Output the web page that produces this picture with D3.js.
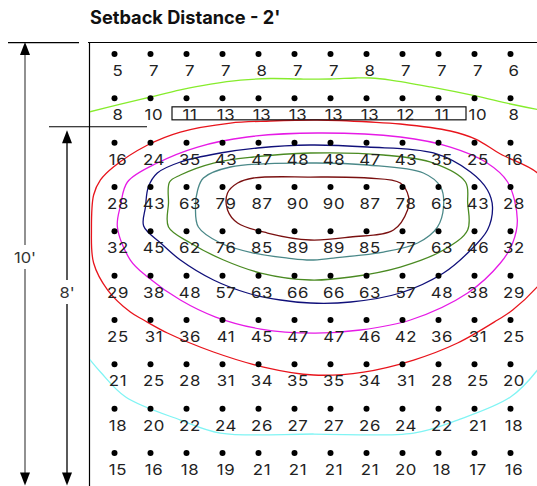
<!DOCTYPE html>
<html><head><meta charset="utf-8">
<script src="https://cdn.jsdelivr.net/npm/d3@7"></script>
<style>body{margin:0;background:#fff}svg{display:block}</style>
</head><body><svg id="c" width="537" height="486"></svg>
<script>
// ---------- data ----------
const title = "Setback Distance - 2'";
const colIndex = [0,1,2,3,4,5,6,7,8,9,10,11];
const row0 = [5,7,7,7,8,7,7,8,7,7,7,6];
const row1 = [8,10,11,13,13,13,13,13,12,11,10,8];
const row2 = [16,24,35,43,47,48,48,47,43,35,25,16];
const row3 = [28,43,63,79,87,90,90,87,78,63,43,28];
const row4 = [32,45,62,76,85,89,89,85,77,63,46,32];
const row5 = [29,38,48,57,63,66,66,63,57,48,38,29];
const row6 = [25,31,36,41,45,47,47,46,42,36,31,25];
const row7 = [21,25,28,31,34,35,35,34,31,28,25,20];
const row8 = [18,20,22,24,26,27,27,26,24,22,21,18];
const row9 = [15,16,18,19,21,21,21,21,20,18,17,16];
const grid = [row0,row1,row2,row3,row4,row5,row6,row7,row8,row9];
const boxRow = 1, boxCols = [2, 9];
// dimension annotations (in row units of the grid)
const dimLabels = ["10'", "8'"];
const dimTop = [-0.27, 1.63];
const dimBottom = [9.72, 9.72];
// contour lines, points as [column, row]
const contourLime = [[-0.72,1.31],[0.17,1.13],[1,0.97],[1.83,0.81],[2.67,0.68],[3.5,0.59],[4.33,0.553],[5.17,0.564],[6,0.564],[6.69,0.541],[7.11,0.541],[7.67,0.587],[8.78,0.744],[10.03,0.947],[11,1.128],[11.83,1.263],[12.1,1.3]];
const contourRed = [[5.64,1.489],[7.11,1.534],[7.94,1.579],[9.33,1.737],[10.03,1.92],[10.72,2.256],[11.75,2.684],[12.3,3.3],[12.5,3.97],[12.3,4.65],[11.8,5.2],[11.06,5.775],[10.64,6.0],[9.53,6.519],[8.31,6.903],[6.92,7.174],[5.53,7.241],[4.14,7.061],[2.75,6.722],[1.47,6.294],[0.81,6.0],[0.44,5.82],[-0.19,5.324],[-0.58,4.715],[-0.64,3.97],[-0.58,3.181],[-0.39,2.842],[-0.03,2.549],[0.92,2.053],[1.83,1.76],[3.22,1.557],[4.33,1.511]];
const contourMagenta = [[5.64,1.782],[7.94,1.872],[9.33,2.098],[10.31,2.436],[10.92,2.887],[11.19,3.745],[11.06,4.263],[10.72,4.715],[9.81,5.391],[8.22,6.0],[6.83,6.226],[5.53,6.294],[4.06,6.204],[2.81,5.933],[1.83,5.549],[0.92,5.03],[0.44,4.647],[0.08,3.903],[0.17,3.406],[0.36,2.887],[1.19,2.459],[2.31,2.098],[3.69,1.872]];
const contourNavy = [[5.44,2.053],[7.03,2.098],[8.86,2.233],[9.89,2.662],[10.36,3.068],[10.5,3.451],[10.36,3.97],[9.81,4.489],[9.14,4.94],[7.94,5.391],[6.56,5.594],[5.44,5.617],[4.61,5.549],[3.69,5.391],[2.75,5.098],[1.83,4.647],[1.28,4.263],[0.81,3.88],[0.86,3.451],[0.94,3.0],[1.19,2.684],[1.83,2.436],[2.94,2.233],[3.97,2.12]];
const contourGreen = [[5.44,2.233],[7.47,2.278],[8.86,2.459],[9.75,2.887],[9.81,3.361],[9.81,3.97],[9.14,4.421],[7.94,4.805],[6.56,5.03],[5.44,5.098],[4.06,4.94],[3.03,4.647],[2.11,4.263],[1.5,3.903],[1.5,3.361],[1.53,2.887],[1.83,2.73],[2.75,2.459],[3.86,2.323]];
const contourTeal = [[5.44,2.459],[7.03,2.504],[8.58,2.684],[9.06,3.0],[9.14,3.451],[8.97,3.903],[8.42,4.263],[7.47,4.467],[6.08,4.602],[5.44,4.647],[4.81,4.602],[3.86,4.489],[2.94,4.263],[2.33,3.903],[2.25,3.451],[2.31,3.068],[2.47,2.797],[3.22,2.549]];
const contourDarkRed = [[5.44,2.775],[7.03,2.797],[7.94,2.91],[8.17,3.226],[8.14,3.519],[7.75,3.97],[6.56,4.128],[5.44,4.196],[4.25,4.038],[3.42,3.812],[3.14,3.519],[3.14,3.136],[3.42,2.91],[3.86,2.797]];
const contourCyan = [[-0.72,6.858],[-0.39,7.174],[0.31,7.737],[1.83,8.256],[2.94,8.55],[5.53,8.572],[8.31,8.55],[9.53,8.256],[11,7.737],[11.75,7.128],[11.97,6.835]];
const contourList = [
  {pts: contourLime, color: "#86ec2c", closed: false},
  {pts: contourRed, color: "#e8141c", closed: true},
  {pts: contourMagenta, color: "#e61ae6", closed: true},
  {pts: contourNavy, color: "#10107a", closed: true},
  {pts: contourGreen, color: "#4a8a22", closed: true},
  {pts: contourTeal, color: "#4a8888", closed: true},
  {pts: contourDarkRed, color: "#7a1010", closed: true},
  {pts: contourCyan, color: "#80f4f4", closed: false}
];

// ---------- drawing ----------
const svg = d3.select("#c");
const FONT = "Inter, 'Liberation Sans', Arial, sans-serif";
const x = d3.scaleLinear().domain([0, 11]).range([114.5, 510.5]);
const y = d3.scaleLinear().domain([0, 9]).range([54, 453]);

svg.append("text").attr("x", 90).attr("y", 24)
  .attr("font-family", FONT).attr("font-weight", 700).attr("font-size", 18.2)
  .attr("fill", "#111").text(title);

// frame
svg.append("line").attr("x1", 88).attr("x2", 537).attr("y1", 42.5).attr("y2", 42.5).attr("stroke", "#000").attr("stroke-width", 1.2);
svg.append("line").attr("x1", 89.5).attr("x2", 89.5).attr("y1", 42).attr("y2", 486).attr("stroke", "#000").attr("stroke-width", 1.2);

// contours
svg.append("clipPath").attr("id", "clip").append("rect").attr("x", 90).attr("y", 43).attr("width", 460).attr("height", 450);
const cg = svg.append("g").attr("clip-path", "url(#clip)");
contourList.forEach(c => {
  const line = d3.line().x(d => x(d[0])).y(d => y(d[1]))
    .curve(c.closed ? d3.curveCatmullRomClosed.alpha(0.5) : d3.curveCatmullRom.alpha(0.5));
  cg.append("path").attr("d", line(c.pts)).attr("fill", "none")
    .attr("stroke", c.color).attr("stroke-width", 1.3);
});

// boxed row
svg.append("rect")
  .attr("x", x(boxCols[0]) - 14.5).attr("y", y(boxRow) + 8.5)
  .attr("width", x(boxCols[1]) - x(boxCols[0]) + 42).attr("height", 13)
  .attr("fill", "none").attr("stroke", "#111").attr("stroke-width", 1.2);

// dots and values
grid.forEach((row, r) => {
  colIndex.forEach(c => {
    svg.append("circle").attr("cx", x(c)).attr("cy", y(r)).attr("r", 3).attr("fill", "#000");
    svg.append("text").attr("transform", `translate(${x(c) + 3.5},${y(r) + 22}) scale(1.12,1)`)
      .attr("text-anchor", "middle").attr("font-family", FONT).attr("font-size", 15)
      .attr("letter-spacing", 0.6).attr("fill", "#222").text(row[c]);
  });
});

// dimension arrows
const dimX = [25, 67];
const dimTickX = [[8, 79], [49, 147]];
const dimColor = ["#555", "#000"];
dimLabels.forEach((lab, i) => {
  const xt = dimX[i], y1 = y(dimTop[i]), y2 = y(dimBottom[i]);
  svg.append("line").attr("x1", dimTickX[i][0]).attr("x2", dimTickX[i][1])
    .attr("y1", y1 + 0.5).attr("y2", y1 + 0.5).attr("stroke", "#000").attr("stroke-width", 1.2);
  svg.append("line").attr("x1", xt).attr("x2", xt).attr("y1", y1 + (i ? 4 : 0) + 10).attr("y2", y2 - 10)
    .attr("stroke", dimColor[i]).attr("stroke-width", 1.3);
  const yt = i ? y1 + 4 : y1;
  svg.append("path").attr("d", `M${xt},${yt} L${xt - 5},${yt + 13} L${xt + 5},${yt + 13} Z`).attr("fill", "#000");
  svg.append("path").attr("d", `M${xt},${y2 + 0.5} L${xt - 5},${y2 - 12.5} L${xt + 5},${y2 - 12.5} Z`).attr("fill", "#000");
  const ym = (i === 0) ? 257 : 292;
  svg.append("rect").attr("x", xt - 14).attr("y", ym - 12).attr("width", 28).attr("height", 24).attr("fill", "#fff");
  svg.append("text").attr("transform", `translate(${xt},${ym + 6}) scale(1.1,1)`).attr("text-anchor", "middle")
    .attr("font-family", FONT).attr("font-size", 15).attr("fill", "#333").text(lab);
});
</script></body></html>
